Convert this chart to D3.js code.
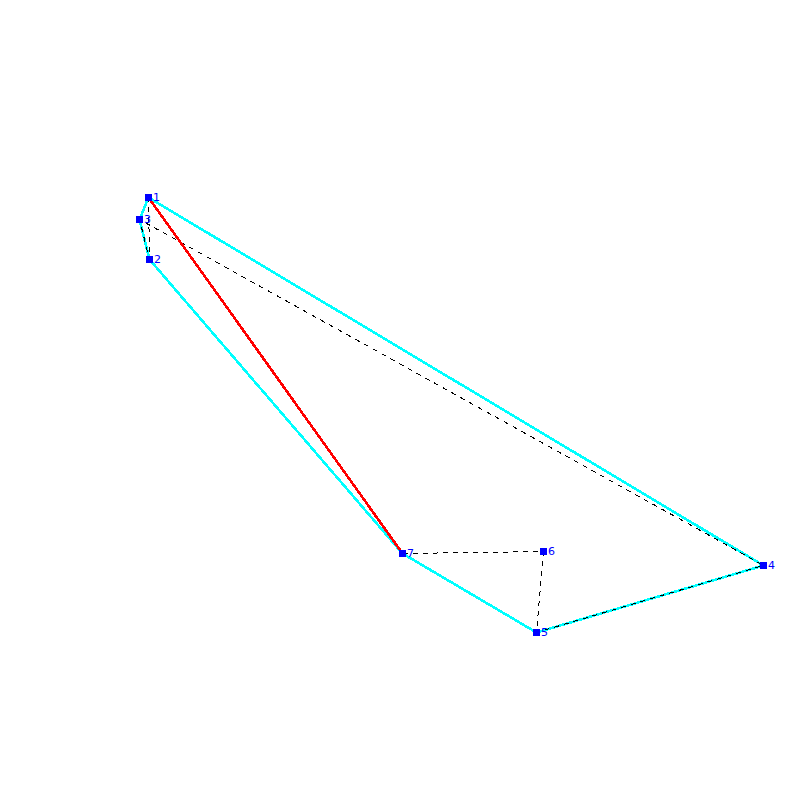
<!DOCTYPE html>
<html>
<head>
<meta charset="utf-8">
<script src="https://cdn.jsdelivr.net/npm/d3@7"></script>
<style>
html,body{margin:0;padding:0;background:#fff;}
svg{display:block;}
</style>
</head>
<body>
<div id="chart"></div>
<script>
const labels = [1, 2, 3, 4, 5, 6, 7];
const xValues = [148.5, 149.5, 139.5, 763.5, 536.5, 543.5, 402.5];
const yValues = [602.5, 540.5, 580.5, 234.5, 167.5, 248.5, 246.5];
const hullOrder = [1, 4, 5, 7, 2, 3, 1];
const tourOrder = [1, 2, 3, 4, 5, 6, 7];
const highlightOrder = [7, 1];

const x = d3.scaleLinear().domain([0, 800]).range([0, 800]);
const y = d3.scaleLinear().domain([0, 800]).range([800, 0]);

const svg = d3.select("#chart").append("svg")
  .attr("width", 800).attr("height", 800)
  .attr("viewBox", "0 0 800 800");

const line = d3.line()
  .x(n => x(xValues[n - 1]))
  .y(n => y(yValues[n - 1]));

svg.append("path").datum(hullOrder)
  .attr("d", line).attr("fill", "none")
  .attr("stroke", "#00ffff").attr("stroke-width", 2.6)
  .attr("shape-rendering", "crispEdges");

svg.append("path").datum(tourOrder)
  .attr("d", line).attr("fill", "none")
  .attr("stroke", "#000").attr("stroke-width", 1)
  .attr("stroke-dasharray", "5 5")
  .attr("shape-rendering", "crispEdges");

svg.append("path").datum(highlightOrder)
  .attr("d", line).attr("fill", "none")
  .attr("stroke", "#ff0000").attr("stroke-width", 2.6)
  .attr("shape-rendering", "crispEdges");

svg.selectAll("rect.pt").data(labels).join("rect")
  .attr("class", "pt")
  .attr("x", n => x(xValues[n - 1]) - 3.5)
  .attr("y", n => y(yValues[n - 1]) - 3.5)
  .attr("width", 7).attr("height", 7)
  .attr("fill", "#0000ff")
  .attr("shape-rendering", "crispEdges");

svg.selectAll("text.lbl").data(labels).join("text")
  .attr("class", "lbl")
  .attr("x", n => x(xValues[n - 1]) + 4.5)
  .attr("y", n => y(yValues[n - 1]) + 3.5)
  .attr("fill", "#0000ff")
  .attr("font-family", "'DejaVu Sans', sans-serif")
  .attr("font-size", 11)
  .text(n => n);
</script>
</body>
</html>
